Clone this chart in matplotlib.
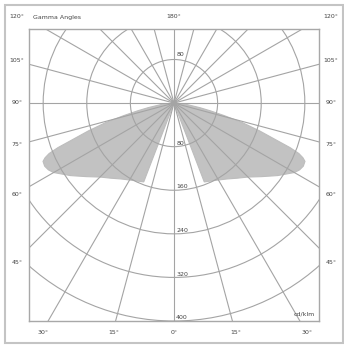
import numpy as np
import matplotlib
matplotlib.use('Agg')
import matplotlib.pyplot as plt
from matplotlib.patches import Circle, Rectangle

#%%
# Luminous intensity (cd/klm) vs gamma angle, one side (mirrored)
gamma = [0, 20, 21, 25, 30, 35, 40, 45, 50, 55, 60, 62, 64, 66, 67, 68, 69,
         70, 72, 74, 76, 78, 80, 85, 90]
intensity = [0, 0, 155, 158, 163, 170, 180, 192, 210, 232, 255, 261, 264, 263,
             257, 247, 228, 202, 165, 131, 95, 68, 48, 20, 0]

rings = [80, 160, 240, 320, 400]
ring_labels = ['80', '160', '240', '320', '400']
spoke_step = 15

left_labels = ['120°', '105°', '90°', '75°', '60°', '45°']
left_label_y = [17, 60, 103, 145, 195, 262]
bottom_labels = ['30°', '15°', '0°', '15°', '30°']
bottom_label_x = [43, 114, 174, 236, 307]

#%%
W, H = 344, 346
fig = plt.figure(figsize=(W / 100, H / 100), dpi=100)
fig.patch.set_facecolor('white')

# outer frame
fig.patches.append(Rectangle((5 / W, 3 / H), 338 / W, 338 / H, transform=fig.transFigure,
                             fill=False, edgecolor='#c4c4c4', linewidth=1.5))

ax = fig.add_axes([29 / W, (H - 321) / H, 290 / W, 292 / H])
ax.set_xlim(-266, 266)
ax.set_ylim(-400, 136)
ax.set_xticks([])
ax.set_yticks([])
for s in ax.spines.values():
    s.set_color('#a8a8a8')
    s.set_linewidth(1.0)

# distribution lobes
g = np.radians(gamma)
r = np.array(intensity)
ax.fill(-r * np.sin(g), -r * np.cos(g), color='#c2c2c2', edgecolor='#bdbdbd', lw=0.8, zorder=1)
ax.fill(r * np.sin(g), -r * np.cos(g), color='#c2c2c2', edgecolor='#bdbdbd', lw=0.8, zorder=1)

# grid
grid_col = '#a4a4a4'
for rr in rings:
    ax.add_patch(Circle((0, 0), rr, fill=False, edgecolor=grid_col, lw=0.8, zorder=2))
for a in range(0, 360, spoke_step):
    t = np.radians(a)
    ax.plot([0, 700 * np.sin(t)], [0, -700 * np.cos(t)], color=grid_col, lw=0.8, zorder=2)

# ring labels
for rr, lab in zip(rings, ring_labels):
    ax.text(4, -rr + 6, lab, fontsize=4.5, color='#444444', ha='left', va='center', zorder=3)
ax.text(4, 80 + 10, '80', fontsize=4.5, color='#444444', ha='left', va='center', zorder=3)
ax.text(258, -392, 'cd/klm', fontsize=4.5, color='#444444', ha='right', va='bottom', zorder=3)

# gamma angle labels
def ftext(x, y, s, **kw):
    fig.text(x / W, 1 - y / H, s, fontsize=4.5, color='#444444', va='center', **kw)

for lab, y in zip(left_labels, left_label_y):
    ftext(17, y, lab, ha='center')
    ftext(331, y, lab, ha='center')
for lab, x in zip(bottom_labels, bottom_label_x):
    ftext(x, 333, lab, ha='center')
ftext(174, 17, '180°', ha='center')
ftext(33, 17, 'Gamma Angles', ha='left')

fig.savefig('out.png', dpi=100, facecolor='white')
